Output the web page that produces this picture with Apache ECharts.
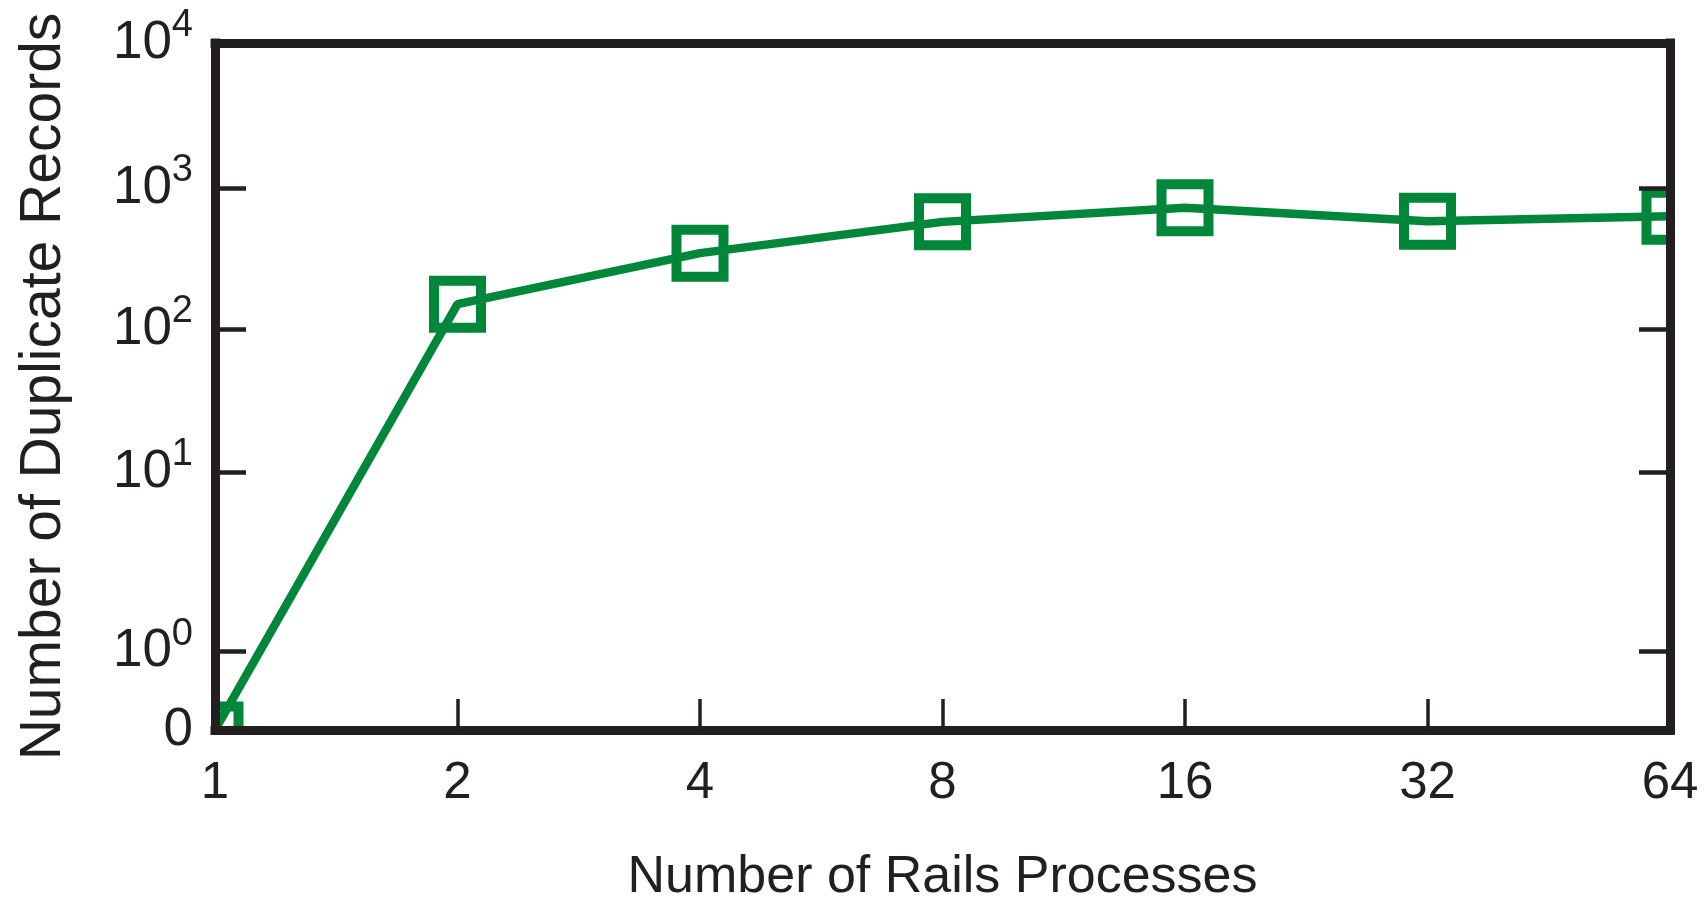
<!DOCTYPE html>
<html>
<head>
<meta charset="utf-8">
<title>Duplicate Records vs Rails Processes</title>
<script src="https://cdn.jsdelivr.net/npm/echarts@6/dist/echarts.min.js"></script>
<style>
  html, body { margin: 0; padding: 0; background: #fff; }
  #chart { width: 1707px; height: 904px; }
</style>
</head>
<body>
<div id="chart"></div>
<script>
// 横轴：Rails 进程数
const processCounts = ['1', '2', '4', '8', '16', '32', '64']
// 纵轴：重复记录数
const duplicateRecords = [0, 150, 345, 575, 725, 580, 630]

// 纵轴刻度：原图是 0 + 对数刻度，刻度间距并不均匀，这里按原图位置（单位：约 1 个数量级）
const yTickValues = [0, 1, 10, 100, 1000, 10000]
const yTickExponents = ['', '0', '1', '2', '3', '4']
const yTickPos = [0, 0.556, 1.817, 2.824, 3.817, 4.838]

const GREEN = '#00873a'
const INK = '#231f20'
const FONT = '"Liberation Sans", Arial, sans-serif'

// 绘图区（像素），边框画在这几条线上
const GRID = { left: 215, right: 37, top: 43, bottom: 174 }
const W = 1707, H = 904

// 把真实数值映射到纵轴位置（相邻刻度之间按对数插值，0~1 之间线性）
function toAxisPos(v) {
  for (let i = 0; i < yTickValues.length - 1; i++) {
    const lo = yTickValues[i], hi = yTickValues[i + 1]
    if (v >= lo && v <= hi) {
      const t = lo === 0 ? (v - lo) / (hi - lo) : Math.log10(v / lo) / Math.log10(hi / lo)
      return yTickPos[i] + t * (yTickPos[i + 1] - yTickPos[i])
    }
  }
  return yTickPos[yTickPos.length - 1]
}

function yLabel(pos) {
  let idx = 0
  yTickPos.forEach((p, i) => { if (Math.abs(p - pos) < Math.abs(yTickPos[idx] - pos)) idx = i })
  if (idx === 0) return '{b|0}'
  return '{b|10}{s|' + yTickExponents[idx] + '}'
}

const frameLine = { show: true, onZero: false, lineStyle: { color: INK, width: 9, cap: 'square' } }

// 白色遮罩：模拟原图把框外的标记裁掉（在折线之上、坐标轴之下）
const half = 4
const masks = [
  { left: 0, top: 0, width: GRID.left - half, height: H },
  { left: W - GRID.right + half, top: 0, width: GRID.right, height: H },
  { left: 0, top: 0, width: W, height: GRID.top - half },
  { left: 0, top: H - GRID.bottom + half, width: W, height: GRID.bottom }
].map(r => ({
  type: 'rect',
  z: 5,
  silent: true,
  shape: { x: r.left, y: r.top, width: r.width, height: r.height },
  style: { fill: '#fff' }
}))

const chart = echarts.init(document.getElementById('chart'))
chart.setOption({
  animation: false,
  backgroundColor: '#fff',
  grid: Object.assign({ outerBoundsMode: 'none', containLabel: false }, GRID),
  graphic: masks,
  xAxis: [
    {
      type: 'category',
      data: processCounts,
      boundaryGap: false,
      position: 'bottom',
      z: 10,
      axisLine: frameLine,
      axisTick: { inside: true, length: 31, lineStyle: { color: INK, width: 3.5 } },
      axisLabel: { margin: 28, color: INK, fontSize: 51, fontFamily: FONT },
      splitLine: { show: false },
      name: 'Number of Rails Processes',
      nameLocation: 'middle',
      nameGap: 122,
      nameTextStyle: { color: INK, fontSize: 52, fontFamily: FONT }
    },
    {
      type: 'category',
      data: processCounts,
      boundaryGap: false,
      position: 'top',
      z: 10,
      axisLine: frameLine,
      axisTick: { show: false },
      axisLabel: { show: false }
    }
  ],
  yAxis: [
    {
      type: 'value',
      min: 0,
      max: yTickPos[yTickPos.length - 1],
      position: 'left',
      z: 10,
      axisLine: frameLine,
      axisTick: { show: true, inside: true, length: 31, customValues: yTickPos, lineStyle: { color: INK, width: 4.5 } },
      axisLabel: {
        customValues: yTickPos,
        margin: 22,
        formatter: yLabel,
        color: INK,
        fontFamily: FONT,
        rich: {
          b: { fontSize: 53, fontFamily: FONT, color: INK, lineHeight: 53 },
          s: { fontSize: 38, fontFamily: FONT, color: INK, padding: [0, 0, 34, 0] }
        }
      },
      splitLine: { show: false },
      name: 'Number of Duplicate Records',
      nameLocation: 'middle',
      nameRotate: 90,
      nameGap: 142,
      nameTextStyle: { color: INK, fontSize: 57, fontFamily: FONT }
    },
    {
      type: 'value',
      min: 0,
      max: yTickPos[yTickPos.length - 1],
      position: 'right',
      z: 10,
      axisLine: frameLine,
      axisTick: { show: true, inside: true, length: 31, customValues: yTickPos, lineStyle: { color: INK, width: 4.5 } },
      axisLabel: { show: false },
      splitLine: { show: false }
    }
  ],
  series: [
    {
      type: 'line',
      data: duplicateRecords.map(toAxisPos),
      symbol: 'rect',
      symbolSize: 47,
      itemStyle: { color: 'transparent', borderColor: GREEN, borderWidth: 10 },
      lineStyle: { color: GREEN, width: 8.5 },
      z: 2
    }
  ]
})
</script>
</body>
</html>
